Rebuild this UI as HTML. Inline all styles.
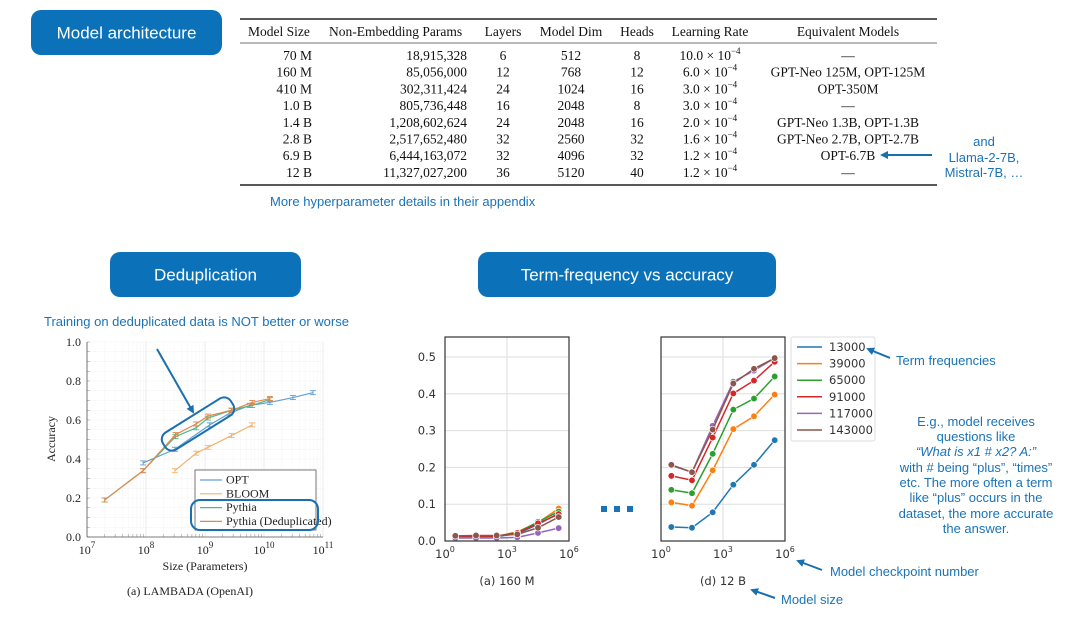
<!DOCTYPE html>
<html><head><meta charset="utf-8">
<style>
html,body{margin:0;padding:0;background:#fff;}
svg{display:block;}
.pill{fill:#0b72b9;}
.pt{font-family:"Liberation Sans",sans-serif;font-size:17px;fill:#fff;text-anchor:middle;}
.tb{font-family:"Liberation Serif",serif;font-size:13.5px;fill:#111;}
.bl{font-family:"Liberation Sans",sans-serif;font-size:13px;fill:#1a73b8;}
.dj{font-family:"DejaVu Sans",sans-serif;font-size:11.5px;fill:#333;}
.sf{font-family:"Liberation Serif",serif;font-size:12px;fill:#222;}
</style></head><body>
<svg id="page" width="1080" height="628" viewBox="0 0 1080 628" xmlns="http://www.w3.org/2000/svg">
<defs>
<marker id="ah" markerWidth="8" markerHeight="8" refX="6" refY="4" orient="auto" markerUnits="userSpaceOnUse"><path d="M0,0 L8,4 L0,8 z" fill="#1a6fb0"/></marker>
</defs>
<g><rect class="pill" x="31" y="10" width="191" height="45" rx="10"/><text class="pt" x="126.5" y="38.5">Model architecture</text></g>
<g><rect class="pill" x="110" y="252" width="191" height="45" rx="10"/><text class="pt" x="205.5" y="280.5">Deduplication</text></g>
<g><rect class="pill" x="478" y="252" width="298" height="45" rx="10"/><text class="pt" x="627" y="280.5">Term-frequency vs accuracy</text></g>

<g id="table">
<line x1="240" y1="19" x2="937" y2="19" stroke="#222" stroke-width="1.5"/>
<line x1="240" y1="43" x2="937" y2="43" stroke="#444" stroke-width="0.8"/>
<line x1="240" y1="185" x2="937" y2="185" stroke="#222" stroke-width="1.5"/>
</g>
<text class="bl" x="270" y="206">More hyperparameter details in their appendix</text>
<g>
<text class="bl" x="984" y="146" text-anchor="middle">and</text>
<text class="bl" x="984" y="162" text-anchor="middle">Llama-2-7B,</text>
<text class="bl" x="984" y="177" text-anchor="middle">Mistral-7B, …</text>
<line x1="932" y1="155" x2="882" y2="155" stroke="#1a6fb0" stroke-width="2" marker-end="url(#ah)"/>
</g>

<text class="bl" x="44" y="326">Training on deduplicated data is NOT better or worse</text>
<g id="lam"></g>
<g id="c160"></g>
<g id="c12b"></g>
<g>
<rect x="601" y="506" width="6" height="6" fill="#1a73b8"/><rect x="614" y="506" width="6" height="6" fill="#1a73b8"/><rect x="627" y="506" width="6" height="6" fill="#1a73b8"/>
</g>
<g>
<line x1="890" y1="358" x2="868" y2="349" stroke="#1a6fb0" stroke-width="2" marker-end="url(#ah)"/>
<text class="bl" x="896" y="365">Term frequencies</text>
<text class="bl" x="976" y="426" text-anchor="middle">E.g., model receives</text>
<text class="bl" x="976" y="441" text-anchor="middle">questions like</text>
<text class="bl" x="976" y="456" text-anchor="middle" font-style="italic">“What is x1 # x2? A:”</text>
<text class="bl" x="976" y="472" text-anchor="middle">with # being “plus”, “times”</text>
<text class="bl" x="976" y="487" text-anchor="middle">etc. The more often a term</text>
<text class="bl" x="976" y="502" text-anchor="middle">like “plus” occurs in the</text>
<text class="bl" x="976" y="518" text-anchor="middle">dataset, the more accurate</text>
<text class="bl" x="976" y="533" text-anchor="middle">the answer.</text>
<line x1="822" y1="570" x2="798" y2="561" stroke="#1a6fb0" stroke-width="2" marker-end="url(#ah)"/>
<text class="bl" x="830" y="576">Model checkpoint number</text>
<line x1="775" y1="598" x2="752" y2="590" stroke="#1a6fb0" stroke-width="2" marker-end="url(#ah)"/>
<text class="bl" x="781" y="604">Model size</text>
</g>
</svg>
<script>
const NS="http://www.w3.org/2000/svg";
function mk(p,t,a,txt){const e=document.createElementNS(NS,t);for(const k in a)e.setAttribute(k,a[k]);if(txt!==undefined)e.textContent=txt;p.appendChild(e);return e;}
function pow(p,a,base,exp,fs){const t=mk(p,'text',a,base);mk(t,'tspan',{dy:-6,'font-size':fs},exp);return t;}

// ---- table data ----
const tHeaders=["Model Size","Non-Embedding Params","Layers","Model Dim","Heads","Learning Rate","Equivalent Models"];
const tSize=["70 M","160 M","410 M","1.0 B","1.4 B","2.8 B","6.9 B","12 B"];
const tParams=["18,915,328","85,056,000","302,311,424","805,736,448","1,208,602,624","2,517,652,480","6,444,163,072","11,327,027,200"];
const tLayers=["6","12","24","16","24","32","32","36"];
const tDim=["512","768","1024","2048","2048","2560","4096","5120"];
const tHeads=["8","12","16","8","16","32","32","40"];
const tLR=["10.0","6.0","3.0","3.0","2.0","1.6","1.2","1.2"];
const tEq=["—","GPT-Neo 125M, OPT-125M","OPT-350M","—","GPT-Neo 1.3B, OPT-1.3B","GPT-Neo 2.7B, OPT-2.7B","OPT-6.7B","—"];
const tb=document.getElementById('table');
const hx=[[312,'end'],[467,'end'],[503,'middle'],[571,'middle'],[637,'middle'],[710,'middle'],[848,'middle']];
const hx0=[[248,'start'],[329,'start'],[503,'middle'],[571,'middle'],[637,'middle'],[710,'middle'],[848,'middle']];
tHeaders.forEach((h,i)=>{const e=mk(tb,'text',{class:'tb',x:hx0[i][0],y:36,'text-anchor':hx0[i][1]},h);

});
for(let r=0;r<tSize.length;r++){
 const y=60+r*16.7;
 const cols=[tSize[r],tParams[r],tLayers[r],tDim[r],tHeads[r]];
 cols.forEach((c,i)=>{mk(tb,'text',{class:'tb',x:hx[i][0],y:y,'text-anchor':hx[i][1]},c);});
 pow(tb,{class:'tb',x:710,y:y,'text-anchor':'middle'},tLR[r]+" × 10","−4",9);
 const e=mk(tb,'text',{class:'tb',x:848,y:y,'text-anchor':'middle'},tEq[r]);
 
 
}

// ---- LAMBADA chart data ----
const optX=[7.95,8.49,9.08,9.42,9.76,10.1,10.49,10.83];
const optY=[0.38,0.45,0.575,0.635,0.675,0.69,0.715,0.74];
const bloomX=[8.49,8.85,9.05,9.45,9.8];
const bloomY=[0.34,0.43,0.46,0.52,0.575];
const pyX=[7.3,7.95,8.5,8.85,9.05,9.45,9.8,10.1];
const pyY=[0.19,0.34,0.515,0.56,0.61,0.65,0.675,0.705];
const pdX=[7.3,7.95,8.5,8.85,9.05,9.45,9.8,10.1];
const pdY=[0.19,0.34,0.525,0.58,0.62,0.65,0.69,0.71];
const lamYTicks=[0,0.2,0.4,0.6,0.8,1.0];
const lamXTicks=[7,8,9,10,11];
(function(){
 const g=document.getElementById('lam');
 const L=87,R=323,T=342,B=537;
 const sx=v=>L+(v-7)/4*(R-L), sy=v=>B-v*(B-T);
 for(let d=7;d<11;d++)for(let k=2;k<10;k++){const x=sx(d+Math.log10(k));mk(g,'line',{x1:x,x2:x,y1:T,y2:B,stroke:'#f6f6f6','stroke-width':0.6});
  mk(g,'line',{x1:x,x2:x,y1:B,y2:B-3,stroke:'#888','stroke-width':0.5});}
 lamXTicks.forEach(v=>{const x=sx(v);mk(g,'line',{x1:x,x2:x,y1:T,y2:B,stroke:'#e6e6e6','stroke-width':0.8});});
 for(let v=0;v<=1.0001;v+=0.05){const y=sy(v);mk(g,'line',{x1:L,x2:R,y1:y,y2:y,stroke:'#f2f2f2','stroke-width':0.6});mk(g,'line',{x1:L,x2:L+3,y1:y,y2:y,stroke:'#888','stroke-width':0.5});}
 mk(g,'line',{x1:L,x2:L,y1:T,y2:B,stroke:'#555','stroke-width':0.8});
 mk(g,'line',{x1:L,x2:R,y1:B,y2:B,stroke:'#555','stroke-width':0.8});
 lamYTicks.forEach(v=>{const e=mk(g,'text',{class:'sf',x:L-6,y:sy(v)+4,'text-anchor':'end','font-size':13},v.toFixed(1));
  
  });
 lamXTicks.forEach(v=>{const t=pow(g,{class:'sf',x:sx(v),y:554,'text-anchor':'middle','font-size':13},'10',String(v),9);
  
  });
 mk(g,'text',{class:'sf',x:205,y:570,'text-anchor':'middle','font-size':13},'Size (Parameters)');
 mk(g,'text',{class:'sf',x:190,y:595,'text-anchor':'middle','font-size':12},'(a) LAMBADA (OpenAI)');
 mk(g,'text',{class:'sf',x:0,y:0,'text-anchor':'middle','font-size':13,transform:'translate(55,439) rotate(-90)'},'Accuracy');
 const ser=[[bloomX,bloomY,'#f2b46c','bloom'],[optX,optY,'#5fa0d8','opt'],[pyX,pyY,'#50b890','pythia'],[pdX,pdY,'#e3874a','pythia-dedup']];
 ser.forEach(s=>{
  const pts=s[0].map((x,i)=>sx(x)+','+sy(s[1][i])).join(' ');
  const pl=mk(g,'polyline',{points:pts,fill:'none',stroke:s[2],'stroke-width':1.2});
  
  
  s[0].forEach((x,i)=>{const X=sx(x),Y=sy(s[1][i]);mk(g,'path',{d:`M${X-3},${Y-2}H${X+3}M${X-3},${Y+2}H${X+3}M${X},${Y-2}V${Y+2}`,stroke:s[2],'stroke-width':0.9});});
 });
 const lg=mk(g,'g',{});
 
 
 mk(lg,'rect',{x:195,y:470,width:121,height:60,fill:'#fff',stroke:'#555','stroke-width':0.8});
 const names=['OPT','BLOOM','Pythia','Pythia (Deduplicated)'],cols=['#5fa0d8','#f2b46c','#50b890','#e3874a'];
 names.forEach((n,i)=>{const y=480+i*13.8;mk(lg,'line',{x1:200,x2:222,y1:y,y2:y,stroke:cols[i],'stroke-width':1.2});mk(lg,'text',{class:'sf',x:226,y:y+3.5,'font-size':9.5},n);});
 mk(g,'rect',{x:191,y:500,width:127,height:30,rx:9,fill:'none',stroke:'#1a6fb0','stroke-width':2});
 mk(g,'rect',{x:-40,y:-10,width:80,height:20,rx:8,fill:'none',stroke:'#1a6fb0','stroke-width':2,transform:'translate(198,424) rotate(-32)'});
 mk(g,'line',{x1:157,y1:349,x2:193,y2:412,stroke:'#1a6fb0','stroke-width':2,'marker-end':'url(#ah)'});
})();

// ---- term frequency data ----
const ckptLog=[0.5,1.5,2.5,3.5,4.5,5.5];
const freqLabels=["13000","39000","65000","91000","117000","143000"];
const tfColors=["#1f77b4","#ff7f0e","#2ca02c","#d62728","#9467bd","#8c564b"];
const s160_13000=[0.012,0.012,0.012,0.02,0.045,0.075];
const s160_39000=[0.012,0.013,0.013,0.025,0.05,0.088];
const s160_65000=[0.012,0.013,0.013,0.023,0.052,0.08];
const s160_91000=[0.013,0.013,0.013,0.022,0.048,0.073];
const s160_117000=[0.008,0.008,0.008,0.01,0.022,0.035];
const s160_143000=[0.014,0.015,0.015,0.018,0.036,0.065];
const s12_13000=[0.038,0.036,0.078,0.153,0.207,0.274];
const s12_39000=[0.105,0.096,0.192,0.304,0.339,0.398];
const s12_65000=[0.139,0.130,0.237,0.357,0.387,0.447];
const s12_91000=[0.177,0.165,0.281,0.401,0.436,0.487];
const s12_117000=[0.205,0.187,0.313,0.433,0.463,0.497];
const s12_143000=[0.207,0.187,0.303,0.428,0.468,0.497];
const tfYTicks=[0,0.1,0.2,0.3,0.4,0.5];
const tfXTicks=[0,3,6];
function tfChart(id,L,series,title,showY){
 const g=document.getElementById(id);
 const R=L+124,T=337,B=541;
 const sx=v=>L+v/6*(R-L), sy=v=>B-v/0.5*(B-357);
 tfYTicks.forEach(v=>{mk(g,'line',{x1:L,x2:R,y1:sy(v),y2:sy(v),stroke:'#ddd','stroke-width':1});
  if(showY){const e=mk(g,'text',{class:'dj',x:L-9,y:sy(v)+4,'text-anchor':'end'},v.toFixed(1));
   
   }});
 tfXTicks.forEach(v=>{const x=sx(v);mk(g,'line',{x1:x,x2:x,y1:T,y2:B,stroke:'#ddd','stroke-width':1});
  const e=pow(g,{class:'dj',x:x,y:558,'text-anchor':'middle'},'10',String(v),8);
  
  });
 series.forEach((s,k)=>{
  const pl=mk(g,'polyline',{points:ckptLog.map((x,i)=>sx(x)+','+sy(s[i])).join(' '),fill:'none',stroke:tfColors[k],'stroke-width':1.5});
  
  
  ckptLog.forEach((x,i)=>{const c=mk(g,'circle',{cx:sx(x),cy:sy(s[i]),r:3.3,fill:tfColors[k],stroke:'#fff','stroke-width':0.7});
   
   });
 });
 mk(g,'rect',{x:L,y:T,width:R-L,height:B-T,fill:'none',stroke:'#333','stroke-width':1.2});
 mk(g,'text',{class:'dj',x:(L+R)/2,y:585,'text-anchor':'middle'},title);
}
tfChart('c160',445,[s160_13000,s160_39000,s160_65000,s160_91000,s160_117000,s160_143000],'(a) 160 M',true);
tfChart('c12b',661,[s12_13000,s12_39000,s12_65000,s12_91000,s12_117000,s12_143000],'(d) 12 B',false);
(function(){
 const g=document.getElementById('c12b');
 const lg=mk(g,'g',{});
 
 
 mk(lg,'rect',{x:791,y:337,width:84,height:104,rx:2,fill:'#fff',stroke:'#ddd','stroke-width':1});
 freqLabels.forEach((n,i)=>{const y=347+i*16.6;mk(lg,'line',{x1:797,x2:822,y1:y,y2:y,stroke:tfColors[i],'stroke-width':1.5});mk(lg,'text',{class:'dj',x:829,y:y+4},n);});
})();
</script>
</body></html>
